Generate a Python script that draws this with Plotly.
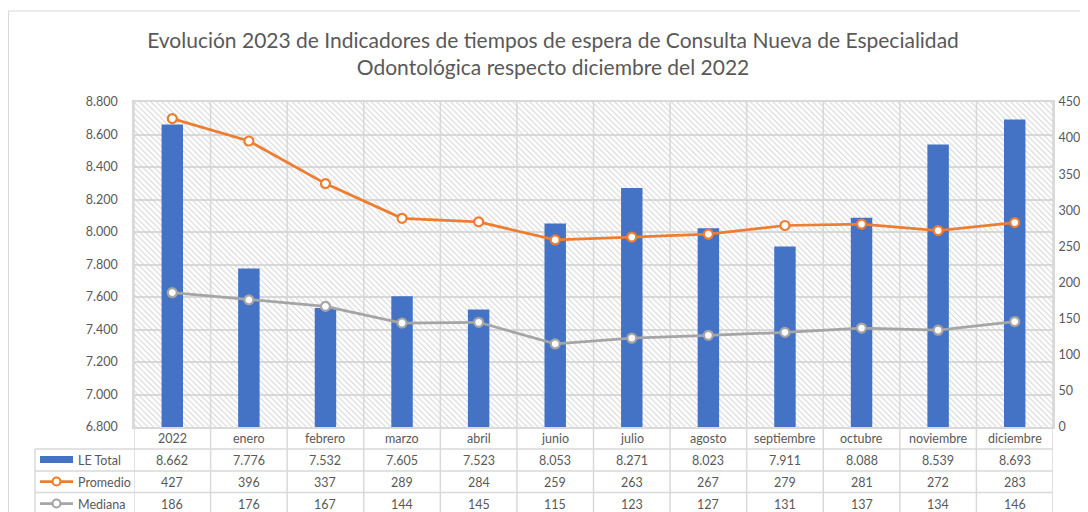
import plotly.graph_objects as go

categories = ["2022", "enero", "febrero", "marzo", "abril", "junio", "julio",
              "agosto", "septiembre", "octubre", "noviembre", "diciembre"]
le_total = [8662, 7776, 7532, 7605, 7523, 8053, 8271, 8023, 7911, 8088, 8539, 8693]
promedio = [427, 396, 337, 289, 284, 259, 263, 267, 279, 281, 272, 283]
mediana = [186, 176, 167, 144, 145, 115, 123, 127, 131, 137, 134, 146]

Y1_RANGE = [6800, 8800]
Y2_RANGE = [0, 450]

BLUE = "#4472C4"
ORANGE = "#ED7D31"
GRAY = "#A5A5A5"
TXT = "#595959"
GRID = "#d9d9d9"
FONT = "Lato"

W, H = 1088, 512
OFF = 8  # page body offset
# target screen pixel positions of the plot area
SL, SR, ST, SB = 134, 1053, 102, 427
ML, MT = SL - OFF, ST - OFF
MR = W - (SR - OFF)
MB = H - (SB - OFF)
PH = SB - ST
PW = SR - SL


def py(px):  # screen pixel row -> paper y
    return (SB - px) / PH


def pxx(px):  # screen pixel col -> paper x
    return (px - SL) / PW


def fmt(v):
    return f"{v:,}".replace(",", ".")


n = len(categories)
fig = go.Figure()

# hatched plot background
fig.add_bar(x=categories, y=[Y1_RANGE[1] - Y1_RANGE[0]] * n, base=Y1_RANGE[0], width=1,
            marker=dict(color="rgba(0,0,0,0)", line=dict(width=0),
                        pattern=dict(shape="\\", fgcolor="#d2d2d2", bgcolor="rgba(0,0,0,0)",
                                     size=4, solidity=0.25, fillmode="replace")),
            hoverinfo="skip", showlegend=False)

fig.add_bar(x=categories, y=le_total, width=0.28, marker=dict(color=BLUE, line=dict(width=0)),
            name="LE Total", showlegend=False)

fig.add_scatter(x=categories, y=promedio, yaxis="y2", mode="lines+markers", name="Promedio",
                line=dict(color=ORANGE, width=2.75),
                marker=dict(symbol="circle", size=9, color="white", line=dict(color=ORANGE, width=2.2)),
                showlegend=False)
fig.add_scatter(x=categories, y=mediana, yaxis="y2", mode="lines+markers", name="Mediana",
                line=dict(color=GRAY, width=2.75),
                marker=dict(symbol="circle", size=9, color="white", line=dict(color=GRAY, width=2.2)),
                showlegend=False)

shapes = []
# chart border
shapes.append(dict(type="rect", xref="paper", yref="paper", x0=pxx(8.5), x1=pxx(1120),
                   y0=py(540), y1=py(11), line=dict(color=GRID, width=1), layer="below"))
# vertical boundaries through plot and table
for i in range(n + 1):
    shapes.append(dict(type="line", xref="x", yref="paper", x0=i - 0.5, x1=i - 0.5,
                       y0=1, y1=py(530), line=dict(color=GRID, width=1.5), layer="below"))
# table left edge
shapes.append(dict(type="line", xref="paper", yref="paper", x0=pxx(35), x1=pxx(35),
                   y0=py(449), y1=py(530), line=dict(color=GRID, width=1.5)))
# table horizontal lines
for rowpx in [449, 471, 492.5, 515]:
    shapes.append(dict(type="line", xref="paper", yref="paper", x0=pxx(35), x1=1,
                       y0=py(rowpx), y1=py(rowpx), line=dict(color=GRID, width=1.5)))

# legend keys
shapes.append(dict(type="rect", xref="paper", yref="paper", x0=pxx(40), x1=pxx(73),
                   y0=py(463), y1=py(456), fillcolor=BLUE, line=dict(width=0)))
for color, rowpx in [(ORANGE, 481.5), (GRAY, 503.5)]:
    shapes.append(dict(type="line", xref="paper", yref="paper", x0=pxx(40), x1=pxx(73),
                       y0=py(rowpx), y1=py(rowpx), line=dict(color=color, width=2.75)))
    shapes.append(dict(type="circle", xref="paper", yref="paper", xsizemode="pixel",
                       ysizemode="pixel", xanchor=pxx(56.5), yanchor=py(rowpx),
                       x0=-4, x1=4, y0=-4, y1=4, fillcolor="white",
                       line=dict(color=color, width=2.2)))

annotations = []
rows = [(categories, 438), ([fmt(v) for v in le_total], 460),
        ([str(v) for v in promedio], 482), ([str(v) for v in mediana], 504)]
for texts, rowpx in rows:
    for i, t in enumerate(texts):
        annotations.append(dict(x=i, xref="x", y=py(rowpx), yref="paper", text=t,
                                showarrow=False, xanchor="center", yanchor="middle",
                                font=dict(family=FONT, size=12.5, color=TXT)))
for label, rowpx in [("LE Total", 460), ("Promedio", 482), ("Mediana", 504)]:
    annotations.append(dict(x=pxx(75.5), xref="paper", y=py(rowpx), yref="paper", text=label,
                            showarrow=False, xanchor="left", yanchor="middle",
                            font=dict(family=FONT, size=12.5, color=TXT)))

fig.update_layout(
    width=W, height=H,
    margin=dict(l=ML, r=MR, t=MT, b=MB, autoexpand=False),
    paper_bgcolor="white", plot_bgcolor="white",
    separators=",.",
    barmode="overlay",
    showlegend=False,
    font=dict(family=FONT, color=TXT),
    title=dict(text="Evolución 2023 de Indicadores de tiempos de espera de Consulta Nueva de Especialidad<br>Odontológica respecto diciembre del 2022",
               x=(553 - OFF) / W, xref="container", xanchor="center",
               y=1 - (47.5 - OFF) / H, yref="container", yanchor="middle",
               font=dict(family=FONT, size=21, color=TXT)),
    xaxis=dict(type="category", range=[-0.5, n - 0.5], showticklabels=False, showgrid=False,
               ticks="", showline=True, mirror=True, linecolor=GRID, linewidth=1.5,
               zeroline=False, automargin=False),
    yaxis=dict(range=Y1_RANGE, dtick=200, tickformat=",d", showgrid=True, gridcolor=GRID,
               gridwidth=1.5, zeroline=False, ticks="outside", ticklen=12,
               tickcolor="rgba(0,0,0,0)", showline=True, mirror=True, linecolor=GRID,
               linewidth=1.5, automargin=False,
               tickfont=dict(family=FONT, size=12.5, color=TXT)),
    yaxis2=dict(range=Y2_RANGE, dtick=50, overlaying="y", side="right", showgrid=False,
                zeroline=False, ticks="outside", ticklen=2, tickcolor="rgba(0,0,0,0)",
                automargin=False,
                tickfont=dict(family=FONT, size=12.5, color=TXT)),
    shapes=shapes,
    annotations=annotations,
)

fig.write_html("out.html")
